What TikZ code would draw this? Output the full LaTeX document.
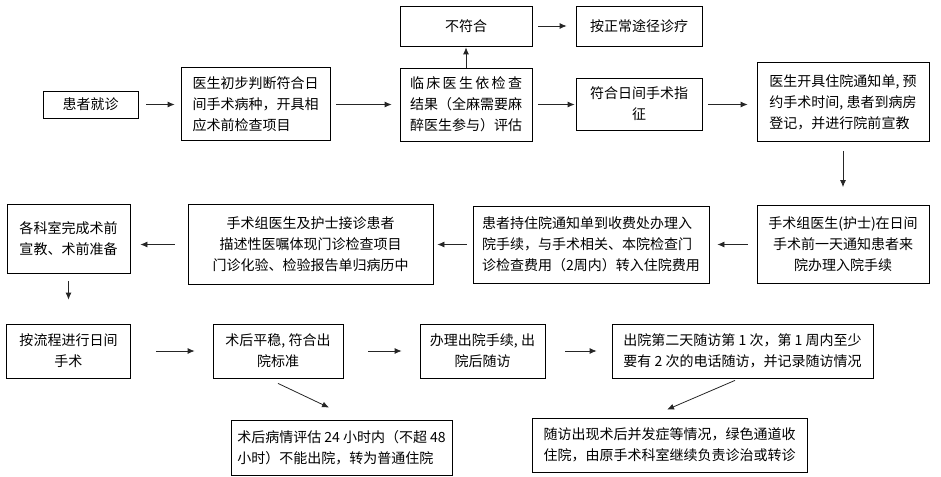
\documentclass[tikz,border=0pt]{standalone}
\usepackage{fontspec}
\newfontfamily\cjk{Noto Sans CJK SC}
\usetikzlibrary{arrows.meta}

\begin{document}
\begin{tikzpicture}[x=1pt,y=-1pt,
    block/.style={
      draw,
      shape=rectangle,
      align=left,
      inner sep=0pt,
      black,
      line width=0.8pt,
      font=\cjk\fontsize{14}{21}\selectfont
    },
    flow/.style={
      -{Latex[length=7pt,width=6pt]},
      line width=0.8pt,
      black!85
    }
    ]
    \useasboundingbox (0,0) rectangle (941,476);
    % first row
    \node[block,minimum width=95pt,minimum height=27pt] (visit) at (90.5,104.5) {患者就诊};
    \node[block,minimum width=149pt,minimum height=73pt] (judge) at (255.5,104) {医生初步判断符合日\\间手术病种，开具相\\应术前检查项目};
    \node[block,minimum width=132pt,minimum height=73pt] (assess) at (466,104.5) {\makebox[8em][s]{临\hfill 床\hfill 医\hfill 生\hfill 依\hfill 检\hfill 查}\\结果（全麻需要麻\\醉医生参与）评估};
    \node[block,minimum width=132pt,minimum height=40pt] (notfit) at (466,26) {不符合};
    \node[block,minimum width=126pt,minimum height=40pt] (normal) at (639,26) {按正常途径诊疗};
    \node[block,minimum width=126pt,minimum height=52pt,align=center] (fit) at (639,104) {符合日间手术指\\征};
    \node[block,minimum width=172pt,minimum height=79pt] (notice) at (843,102) {医生开具住院通知单, 预\\约手术时间, 患者到病房\\登记，并进行院前宣教};
    % second row
    \node[block,minimum width=172pt,minimum height=78pt,align=center] (inform) at (843,244.5) {手术组医生(护士)在日间\\手术前一天通知患者来\\院办理入院手续};
    \node[block,minimum width=236pt,minimum height=77pt] (admit) at (591,244.5) {患者持住院通知单到收费处办理入\\院手续，与手术相关、本院检查门\\诊检查费用（2周内）转入住院费用};
    \node[block,minimum width=245pt,minimum height=80pt,align=center] (receive) at (310.5,244.5) {手术组医生及护士接诊患者\\描述性医嘱体现门诊检查项目\\门诊化验、检验报告单归病历中};
    \node[block,minimum width=123pt,minimum height=69pt] (prepare) at (68.5,238.5) {各科室完成术前\\宣教、术前准备};
    % third row
    \node[block,minimum width=124pt,minimum height=54pt,align=center] (surgery) at (68.5,351) {按流程进行日间\\手术};
    \node[block,minimum width=130pt,minimum height=54pt,align=center] (stable) at (278,351) {术后平稳, 符合出\\院标准};
    \node[block,minimum width=125pt,minimum height=54pt,align=center] (discharge) at (482.5,351) {办理出院手续, 出\\院后随访};
    \node[block,minimum width=261pt,minimum height=54pt] (followup) at (742.5,351) {出院第二天随访第 1 次，第 1 周内至少\\要有 2 次的电话随访，并记录随访情况};
    \node[block,minimum width=221pt,minimum height=55pt] (transfer) at (341.5,447.5) {术后病情评估 24 小时内（不超 48\\小时）不能出院，转为普通住院};
    \node[block,minimum width=275pt,minimum height=54pt] (complication) at (669.5,445) {随访出现术后并发症等情况，绿色通道收\\住院，由原手术科室继续负责诊治或转诊};
    % arrows
    \draw[flow,shorten <=8pt,shorten >=6pt] (visit) -- (visit -| judge.west);
    \draw[flow,shorten <=6pt,shorten >=8pt] (judge.east |- visit) -- (assess);
    \draw[flow,shorten <=6pt,shorten >=1pt] (assess) -- (assess -| fit.west);
    \draw[flow,shorten <=6pt,shorten >=9pt] (fit.east |- assess) -- (assess -| notice.west);
    \draw[flow,shorten >=1pt] (assess) -- (notfit);
    \draw[flow,shorten <=6pt,shorten >=9pt] (notfit) -- (normal);
    \draw[flow,shorten <=9pt,shorten >=18pt] (notice) -- (inform);
    \draw[flow,shorten <=9pt,shorten >=8pt] (inform) -- (admit);
    \draw[flow,shorten <=6pt,shorten >=4pt] (admit) -- (receive);
    \draw[flow,shorten <=13pt,shorten >=10pt] (receive) -- (receive -| prepare.east);
    \draw[flow,shorten <=8pt,shorten >=24pt] (prepare) -- (surgery);
    \draw[flow,shorten <=25pt,shorten >=18pt] (surgery) -- (stable);
    \draw[flow,shorten <=25pt,shorten >=18pt] (stable) -- (discharge);
    \draw[flow,shorten <=20pt,shorten >=15pt] (discharge) -- (followup);
    \draw[flow] ([yshift=-5pt]stable.south) -- ([shift={(-12.5pt,12pt)}]transfer.north);
    \draw[flow] ([shift={(-7.5pt,-2pt)}]followup.south) -- ([shift={(-2.5pt,8pt)}]complication.north);
  \end{tikzpicture}
\end{document}
